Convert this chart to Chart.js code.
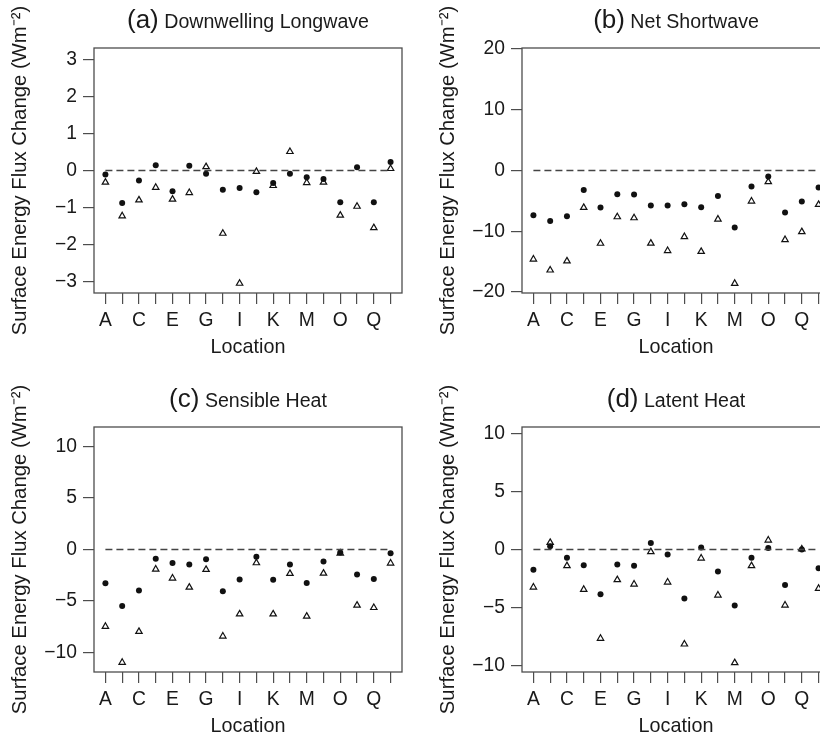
<!DOCTYPE html>
<html><head><meta charset="utf-8">
<script src="https://cdn.jsdelivr.net/npm/chart.js@4"></script>
<style>
html,body{margin:0;padding:0;background:#fff;overflow:hidden;width:820px;height:738px;}
#wrap{position:relative;width:820px;height:738px;overflow:hidden;background:#fff;}
canvas{position:absolute;}
</style></head><body>
<div id="wrap">
<canvas id="cA" width="410" height="369" style="left:0px;top:0px"></canvas>
<canvas id="cB" width="410" height="369" style="left:428px;top:0px"></canvas>
<canvas id="cC" width="410" height="369" style="left:0px;top:379px"></canvas>
<canvas id="cD" width="410" height="369" style="left:428px;top:379px"></canvas>
</div>
<script>
// ---- data ----
const categories = ['A','B','C','D','E','F','G','H','I','J','K','L','M','N','O','P','Q','R'];
const xTickLabels = ['A','C','E','G','I','K','M','O','Q'];

const lwDot = [-0.11,-0.88,-0.27,0.14,-0.56,0.13,-0.09,-0.52,-0.47,-0.59,-0.34,-0.09,-0.18,-0.23,-0.86,0.09,-0.86,0.23];
const lwTri = [-0.32,-1.23,-0.80,-0.46,-0.78,-0.60,0.10,-1.70,-3.05,-0.03,-0.41,0.51,-0.33,-0.32,-1.21,-0.97,-1.55,0.05];

const swDot = [-7.36,-8.30,-7.53,-3.19,-6.10,-3.90,-3.96,-5.77,-5.77,-5.55,-6.04,-4.18,-9.40,-2.64,-0.99,-6.92,-5.11,-2.80];
const swTri = [-14.6,-16.4,-14.9,-6.10,-12.0,-7.64,-7.80,-11.98,-13.2,-10.9,-13.35,-8.02,-18.6,-5.05,-1.87,-11.4,-10.1,-5.6];

const shDot = [-3.28,-5.49,-3.99,-0.91,-1.30,-1.46,-0.94,-4.06,-2.92,-0.71,-2.95,-1.46,-3.25,-1.17,-0.29,-2.44,-2.86,-0.36];
const shTri = [-7.48,-10.97,-7.97,-1.92,-2.79,-3.67,-1.95,-8.42,-6.27,-1.30,-6.27,-2.34,-6.49,-2.31,-0.36,-5.42,-5.65,-1.33];

const lhDot = [-1.75,0.29,-0.72,-1.35,-3.85,-1.29,-1.41,0.55,-0.43,-4.22,0.17,-1.90,-4.83,-0.72,0.14,-3.07,0.0,-1.61];
const lhTri = [-3.25,0.60,-1.41,-3.45,-7.67,-2.61,-2.99,-0.20,-2.82,-8.16,-0.75,-3.94,-9.77,-1.41,0.80,-4.80,0.03,-3.36];

const yTicksA = [-3,-2,-1,0,1,2,3];
const yTicksB = [-20,-10,0,10,20];
const yTicksC = [-10,-5,0,5,10];
const yTicksD = [-10,-5,0,5,10];

const yLimA = 3.31, yLimB = 20.16, yLimC = 11.9, yLimD = 10.56;

const panelTags = ['(a)','(b)','(c)','(d)'];
const panelNames = ['Downwelling Longwave','Net Shortwave','Sensible Heat','Latent Heat'];
const yTitle = 'Surface Energy Flux Change (Wm\u207B\u00B2)';
const xTitle = 'Location';

// ---- styling ----
const FAM = '"Liberation Sans", Arial, Helvetica, sans-serif';
const TXT = '#1a1a1a';
const AX = '#4d4d4d';

const boxPlugin = {
  id: 'box',
  afterDraw(chart) {
    const {ctx, chartArea: a} = chart;
    ctx.save();
    ctx.strokeStyle = AX;
    ctx.lineWidth = 1.3;
    ctx.strokeRect(a.left, a.top, a.right - a.left, a.bottom - a.top);
    ctx.restore();
  }
};
const titlePlugin = {
  id: 'panelTitle',
  afterDraw(chart, args, opts) {
    const {ctx, chartArea: a} = chart;
    ctx.save();
    ctx.fillStyle = TXT;
    ctx.textBaseline = 'alphabetic';
    ctx.textAlign = 'left';
    const f1 = '26px ' + FAM, f2 = '19.6px ' + FAM;
    ctx.font = f1; const w1 = ctx.measureText(opts.tag).width;
    ctx.font = f2; const w2 = ctx.measureText(' ' + opts.text).width;
    const x0 = (a.left + a.right) / 2 - (w1 + w2) / 2;
    const y = a.top - 20;
    ctx.font = f1; ctx.fillText(opts.tag, x0, y);
    ctx.font = f2; ctx.fillText(' ' + opts.text, x0 + w1, y);
    ctx.restore();
  }
};

function fmt(v) { return v < 0 ? '\u2212' + Math.abs(v) : String(v); }

function makePanel(id, idx, dots, tris, yTicks, yLim) {
  const font = {family: FAM, size: 19.3};
  const tfont = {family: FAM, size: 19.8};
  new Chart(document.getElementById(id), {
    type: 'scatter',
    data: {
      datasets: [
        {
          type: 'line',
          data: [{x: 0, y: 0}, {x: categories.length - 1, y: 0}],
          borderColor: '#444', borderWidth: 1.3, borderDash: [7, 4],
          pointRadius: 0, fill: false
        },
        {
          data: dots.map((v, i) => ({x: i, y: v})),
          pointStyle: 'circle', pointRadius: 3,
          backgroundColor: '#111', borderColor: '#111', borderWidth: 0
        },
        {
          data: tris.map((v, i) => ({x: i, y: v})),
          pointStyle: 'triangle', pointRadius: 3.7,
          backgroundColor: 'rgba(255,255,255,0)', borderColor: '#111', borderWidth: 1.2
        }
      ]
    },
    options: {
      responsive: false, animation: false,
      layout: {padding: {top: 48, right: 8, bottom: 10, left: 0}},
      plugins: {
        legend: {display: false}, tooltip: {enabled: false},
        panelTitle: {tag: panelTags[idx], text: panelNames[idx]}
      },
      scales: {
        x: {
          type: 'linear', min: -0.68, max: categories.length - 1 + 0.68,
          afterBuildTicks: s => { s.ticks = categories.map((c, i) => ({value: i})); },
          afterFit: s => { s.height = 66; },
          ticks: {
            autoSkip: false, maxRotation: 0, minRotation: 0, padding: 5,
            font, color: TXT,
            callback: v => (xTickLabels.includes(categories[v]) ? categories[v] : '')
          },
          grid: {drawOnChartArea: false, drawTicks: true, tickLength: 11, color: AX, lineWidth: 1.2},
          border: {display: false},
          title: {display: true, text: xTitle, font: tfont, color: TXT, padding: {top: 0, bottom: 0}}
        },
        y: {
          min: -yLim, max: yLim,
          afterBuildTicks: s => { s.ticks = yTicks.map(v => ({value: v})); },
          afterFit: s => { s.width = 94; },
          ticks: {font, color: TXT, padding: 6, callback: v => fmt(v)},
          grid: {drawOnChartArea: false, drawTicks: true, tickLength: 11, color: AX, lineWidth: 1.2},
          border: {display: false},
          title: {display: true, text: yTitle, font: {family: FAM, size: 20.3}, color: TXT, padding: {top: 8, bottom: 0}}
        }
      }
    },
    plugins: [boxPlugin, titlePlugin]
  });
}

makePanel('cA', 0, lwDot, lwTri, yTicksA, yLimA);
makePanel('cB', 1, swDot, swTri, yTicksB, yLimB);
makePanel('cC', 2, shDot, shTri, yTicksC, yLimC);
makePanel('cD', 3, lhDot, lhTri, yTicksD, yLimD);
</script>
</body></html>
